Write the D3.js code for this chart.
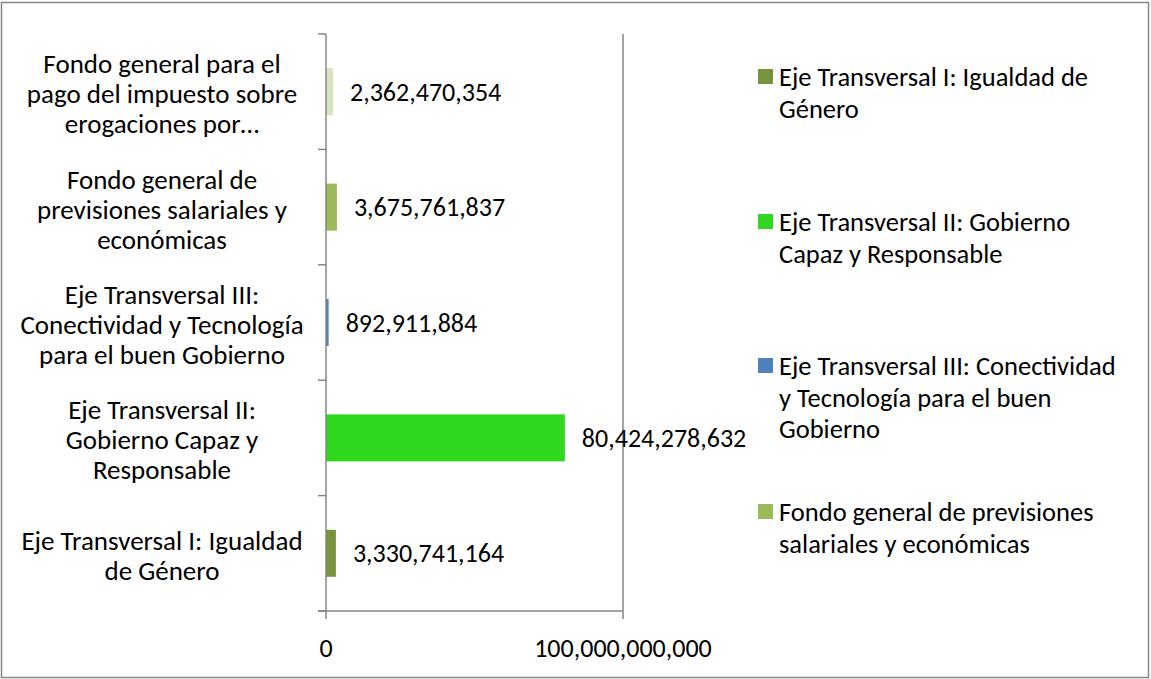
<!DOCTYPE html>
<html>
<head>
<meta charset="utf-8">
<script src="https://cdn.jsdelivr.net/npm/d3@7"></script>
<style>
  body { margin: 0; background: #fff; }
  text { font-family: Carlito, Calibri, Lato, sans-serif; fill: #000; }
</style>
</head>
<body>
<svg width="1151" height="679"></svg>
<script>
// categories from bottom to top, as in the chart
var categories = [
  "Eje Transversal I: Igualdad de Género",
  "Eje Transversal II: Gobierno Capaz y Responsable",
  "Eje Transversal III: Conectividad y Tecnología para el buen Gobierno",
  "Fondo general de previsiones salariales y económicas",
  "Fondo general para el pago del impuesto sobre erogaciones por…"
];
var axisLabelLines = [
  ["Eje Transversal I: Igualdad", "de Género"],
  ["Eje Transversal II:", "Gobierno Capaz y", "Responsable"],
  ["Eje Transversal III:", "Conectividad y Tecnología", "para el buen Gobierno"],
  ["Fondo general de", "previsiones salariales y", "económicas"],
  ["Fondo general para el", "pago del impuesto sobre", "erogaciones por…"]
];
var legendLines = [
  ["Eje Transversal I: Igualdad de", "Género"],
  ["Eje Transversal II: Gobierno", "Capaz y Responsable"],
  ["Eje Transversal III: Conectividad", "y Tecnología para el buen", "Gobierno"],
  ["Fondo general de previsiones", "salariales y económicas"]
];
var values = [3330741164, 80424278632, 892911884, 3675761837, 2362470354];
var colors = ["#77933C", "#2ED81E", "#4F81BD", "#9BBB59", "#D7E4BD"];
var xTicks = [0, 100000000000];

var svg = d3.select("svg");
var fontSize = 26;

// outer frame
svg.append("rect")
    .attr("x", 1.5).attr("y", 2.5)
    .attr("width", 1147).attr("height", 675)
    .attr("fill", "#fff").attr("stroke", "#868686").attr("stroke-width", 1.5);

var x = d3.scaleLinear().domain([0, 100000000000]).range([326, 623]);
var y = d3.scaleBand().domain(d3.range(categories.length).reverse()).range([34, 611]);

// gridline
svg.selectAll(".grid").data(xTicks.slice(1)).enter().append("line")
    .attr("x1", d => x(d)).attr("x2", d => x(d))
    .attr("y1", 34).attr("y2", 611)
    .attr("stroke", "#868686").attr("stroke-width", 1.5);

// bars
var barH = 47;
svg.selectAll(".bar").data(values).enter().append("rect")
    .attr("x", x(0))
    .attr("y", (d, i) => y(i) + y.bandwidth() / 2 - barH / 2)
    .attr("width", d => x(d) - x(0))
    .attr("height", barH)
    .attr("fill", (d, i) => colors[i]);

// value labels
var fmt = d3.format(",");
svg.selectAll(".val").data(values).enter().append("text")
    .attr("x", d => x(d) + 17)
    .attr("y", (d, i) => y(i) + y.bandwidth() / 2)
    .attr("dy", "0.35em")
    .style("font-size", fontSize + "px")
    .text(d => fmt(d));

// y axis
var yAxis = svg.append("g");
yAxis.append("line")
    .attr("x1", 326).attr("x2", 326).attr("y1", 34).attr("y2", 611)
    .attr("stroke", "#868686").attr("stroke-width", 1.5);
var bounds = d3.range(categories.length + 1).map(k => 34 + k * y.step());
yAxis.selectAll(".tk").data(bounds).enter().append("line")
    .attr("x1", 318).attr("x2", 326)
    .attr("y1", d => d).attr("y2", d => d)
    .attr("stroke", "#868686").attr("stroke-width", 1.5);

// x axis
var xAxis = svg.append("g");
xAxis.append("line")
    .attr("x1", 318).attr("x2", 623).attr("y1", 611).attr("y2", 611)
    .attr("stroke", "#868686").attr("stroke-width", 1.5);
xAxis.selectAll(".xt").data(xTicks).enter().append("line")
    .attr("x1", d => x(d)).attr("x2", d => x(d))
    .attr("y1", 611).attr("y2", 619)
    .attr("stroke", "#868686").attr("stroke-width", 1.5);
xAxis.selectAll(".xl").data(xTicks).enter().append("text")
    .attr("x", d => x(d)).attr("y", 648)
    .attr("dy", "0.35em")
    .attr("text-anchor", "middle")
    .style("font-size", fontSize + "px")
    .text(d => fmt(d));

// category labels
var lineH = 30;
categories.forEach(function(c, i) {
  var lines = axisLabelLines[i];
  var cy = y(i) + y.bandwidth() / 2 + 2;
  var t = svg.append("text")
      .attr("text-anchor", "middle")
      .style("font-size", "27px");
  lines.forEach(function(l, j) {
    t.append("tspan")
        .attr("x", 162)
        .attr("y", cy + (j - (lines.length - 1) / 2) * lineH)
        .attr("dy", "0.35em")
        .text(l);
  });
});

// legend
var legendY = [77, 222, 366, 512];
legendLines.forEach(function(lines, i) {
  var g = svg.append("g");
  g.append("rect")
      .attr("x", 758).attr("y", legendY[i] - 8)
      .attr("width", 15).attr("height", 15)
      .attr("fill", colors[i]);
  var t = g.append("text").style("font-size", "26.5px");
  lines.forEach(function(l, j) {
    t.append("tspan")
        .attr("x", 779)
        .attr("y", legendY[i] + j * 31.5)
        .attr("dy", "0.35em")
        .text(l);
  });
});
</script>
</body>
</html>
